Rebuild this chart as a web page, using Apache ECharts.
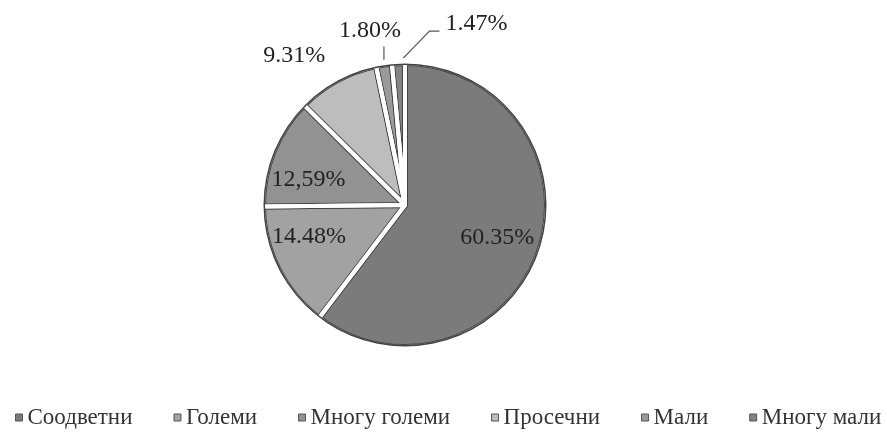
<!DOCTYPE html>
<html>
<head>
<meta charset="utf-8">
<script src="https://cdn.jsdelivr.net/npm/echarts@6/dist/echarts.min.js"></script>
<style>html,body{margin:0;padding:0;background:#fff}#c{width:887px;height:438px}</style>
</head>
<body>
<div id="c"></div>
<script>
const categories = ['Соодветни', 'Големи', 'Многу големи', 'Просечни', 'Мали', 'Многу мали'];
const values = [60.35, 14.48, 12.59, 9.31, 1.80, 1.47];
const labels = ['60.35%', '14.48%', '12,59%', '9.31%', '1.80%', '1.47%'];
const colors = ['#7b7b7b', '#a2a2a2', '#929292', '#bdbdbd', '#9a9a9a', '#848484'];

const FONT = "'Liberation Serif', 'Times New Roman', serif";
const insideIdx = [0, 1, 2];
const R = 142;
const CENTER = [405, 205];
const DARK = '#444444';

const data = categories.map((n, i) => ({
  name: n,
  value: values[i],
  itemStyle: { color: colors[i] },
  label: { show: true, position: insideIdx.includes(i) ? 'inside' : 'outside' },
  labelLine: { show: !insideIdx.includes(i) }
}));

function layout(p) {
  const i = p.dataIndex;
  if (i === 0) return { dx: 22, dy: 9 };
  if (i === 1) return { dx: -30, dy: -2 };
  if (i === 2) return { dx: -28, dy: 2 };
  const pts = p.labelLinePoints;
  if (!pts) return {};
  const s = pts[0];
  if (i === 3) {
    return { x: s[0] - 43, y: s[1] - 25, align: 'center', verticalAlign: 'middle', labelLinePoints: [s, s, s] };
  }
  if (i === 4) {
    const m = [s[0], s[1] - 18];
    return { x: s[0] - 14, y: s[1] - 34, align: 'center', verticalAlign: 'middle', labelLinePoints: [s, m, m] };
  }
  if (i === 5) {
    const m = [s[0] + 31, s[1] - 32];
    const e = [m[0] + 10, m[1]];
    return { x: e[0] + 6, y: e[1] - 7, align: 'left', verticalAlign: 'middle', labelLinePoints: [s, m, e] };
  }
  return {};
}

const base = { type: 'pie', silent: true, center: CENTER, startAngle: 90, clockwise: true, animation: false };

const chart = echarts.init(document.getElementById('c'));
chart.setOption({
  backgroundColor: '#fff',
  animation: false,
  legend: {
    data: categories,
    left: 15,
    right: 0,
    top: 406,
    padding: 0,
    icon: 'rect',
    itemWidth: 7,
    itemHeight: 7,
    itemGap: 41,
    itemStyle: { borderColor: '#555', borderWidth: 1 },
    textStyle: { fontFamily: FONT, fontSize: 23, color: '#333' }
  },
  series: [
    Object.assign({}, base, {
      radius: [0, R],
      data: data,
      itemStyle: { borderColor: DARK, borderWidth: 6 },
      avoidLabelOverlap: false,
      label: {
        fontFamily: FONT,
        fontSize: 24,
        color: '#222',
        formatter: p => labels[p.dataIndex]
      },
      labelLine: { lineStyle: { color: '#555', width: 1.2 }, length: 20, length2: 0 },
      labelLayout: layout
    }),
    Object.assign({}, base, {
      radius: [0, R],
      data: categories.map((n, i) => ({ name: n, value: values[i] })),
      itemStyle: { color: 'rgba(0,0,0,0)', borderColor: '#ffffff', borderWidth: 4 },
      label: { show: false },
      labelLine: { show: false }
    }),
    Object.assign({}, base, {
      radius: [R - 0.5, R + 5],
      data: [{ name: '', value: 1, itemStyle: { color: '#ffffff' } }],
      itemStyle: { borderWidth: 0 },
      label: { show: false },
      labelLine: { show: false }
    }),
    Object.assign({}, base, {
      radius: [R - 2, R - 0.5],
      data: [{ name: '', value: 1, itemStyle: { color: DARK } }],
      itemStyle: { borderWidth: 0 },
      label: { show: false },
      labelLine: { show: false }
    })
  ]
});
</script>
</body>
</html>
